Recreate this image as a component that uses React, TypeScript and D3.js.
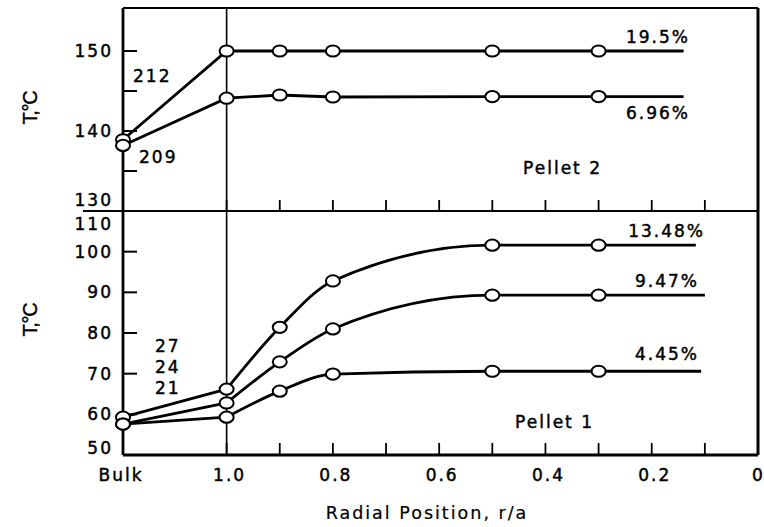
import React from "react";
import * as d3 from "d3";

// Radial positions (r/a); the bulk fluid sits to the left of the pellet surface (r/a = 1.0)
const BULK_R = 1.195;
const positions = [BULK_R, 1.0, 0.9, 0.8, 0.5, 0.3];

// Pellet 2 temperature profiles (°C)
const pellet2Series = [
  { label: "19.5%", values: [138.9, 150.0, 150.0, 150.0, 150.0, 150.0], end: 0.14 },
  { label: "6.96%", values: [138.2, 144.1, 144.5, 144.25, 144.3, 144.3], end: 0.14 },
];

// Pellet 1 temperature profiles (°C)
const pellet1Series = [
  { label: "13.48%", values: [59.3, 66.2, 81.4, 92.8, 101.6, 101.6], end: 0.117 },
  { label: "9.47%", values: [57.6, 62.8, 72.9, 81.0, 89.3, 89.3], end: 0.1 },
  { label: "4.45%", values: [57.6, 59.3, 65.7, 69.9, 70.6, 70.6], end: 0.107 },
];

const radialTicks = [1.0, 0.9, 0.8, 0.7, 0.6, 0.5, 0.4, 0.3, 0.2, 0.1];
const xTickLabels = [
  { v: BULK_R, t: "Bulk" },
  { v: 1.0, t: "1.0" },
  { v: 0.8, t: "0.8" },
  { v: 0.6, t: "0.6" },
  { v: 0.4, t: "0.4" },
  { v: 0.2, t: "0.2" },
];
const topYTicks = [135, 140, 145, 150];
const topYLabels = [130, 140, 150];
const botYTicks = [60, 70, 80, 90, 100];
const botYLabels = [50, 60, 70, 80, 90, 100, 110];

const FONT = "'DejaVu Sans', Verdana, sans-serif";

export default function App() {
  const W = 764, H = 527;
  const left = 123, right = 758, top = 8, mid = 211, bottom = 455;

  const x = d3.scaleLinear().domain([BULK_R, 0]).range([left, right]);
  const yTop = d3.scaleLinear().domain([130, 155.375]).range([mid, top]);
  const yBot = d3.scaleLinear().domain([50, 110]).range([bottom, mid]);

  const straight = d3.line<[number, number]>().x(d => d[0]).y(d => d[1]);
  const smooth = d3
    .line<[number, number]>()
    .x(d => d[0])
    .y(d => d[1])
    .curve(d3.curveMonotoneX);

  const tickFont = {
    fontFamily: FONT,
    fontSize: 17,
    letterSpacing: 2,
    fill: "#000",
    stroke: "#000",
    strokeWidth: 0.45,
  } as const;
  const markStroke = 2.8;

  const renderMarkers = (vals: number[], y: d3.ScaleLinear<number, number>) =>
    vals.map((v, i) => (
      <ellipse
        key={i}
        cx={x(positions[i])}
        cy={y(v)}
        rx={7}
        ry={5.6}
        fill="#fff"
        stroke="#000"
        strokeWidth={2}
      />
    ));

  const yTitle = (cy: number) => (
    <text
      transform={`translate(37,${cy}) rotate(-90)`}
      textAnchor="middle"
      fontFamily="'Liberation Sans', Arial, sans-serif"
      fontSize={20}
      letterSpacing={-1.2}
      stroke="#000"
      strokeWidth={0.4}
    >
      T,°C
    </text>
  );

  return (
    <svg width={W} height={H} style={{ display: "block", position: "absolute", left: 0, top: 0, background: "#fff" }}>
      <rect width={W} height={H} fill="#fff" />

      {/* Pellet 2 lines: straight segments */}
      {pellet2Series.map(s => {
        const pts: [number, number][] = positions.map((p, i) => [x(p), yTop(s.values[i])]);
        pts.push([x(s.end), yTop(s.values[s.values.length - 1])]);
        return (
          <path key={s.label} d={straight(pts) || ""} fill="none" stroke="#000" strokeWidth={markStroke} />
        );
      })}

      {/* Pellet 1 lines: straight from bulk to surface, smooth inside the pellet */}
      {pellet1Series.map(s => {
        const outer: [number, number][] = [
          [x(positions[0]), yBot(s.values[0])],
          [x(positions[1]), yBot(s.values[1])],
        ];
        const inner: [number, number][] = positions.slice(1).map((p, i) => [x(p), yBot(s.values[i + 1])]);
        inner.push([x(s.end), yBot(s.values[s.values.length - 1])]);
        return (
          <g key={s.label}>
            <path d={straight(outer) || ""} fill="none" stroke="#000" strokeWidth={markStroke} />
            <path d={smooth(inner) || ""} fill="none" stroke="#000" strokeWidth={markStroke} />
          </g>
        );
      })}

      {/* surface line at r/a = 1.0 */}
      <line x1={x(1)} x2={x(1)} y1={top} y2={bottom} stroke="#000" strokeWidth={1.6} />

      {/* frame */}
      <line x1={left} x2={right} y1={top} y2={top} stroke="#000" strokeWidth={2.2} />
      <line x1={left} x2={left} y1={top} y2={bottom} stroke="#000" strokeWidth={2.8} />
      <line x1={right} x2={right} y1={top} y2={bottom} stroke="#000" strokeWidth={3} />
      <line x1={left} x2={right} y1={bottom} y2={bottom} stroke="#000" strokeWidth={2.8} />
      <line x1={left - 40} x2={right} y1={mid} y2={mid} stroke="#000" strokeWidth={2.2} />

      {/* radial ticks on the panel divider and bottom edge */}
      {radialTicks.map(t => (
        <g key={t}>
          <line x1={x(t)} x2={x(t)} y1={mid} y2={mid - 11} stroke="#000" strokeWidth={1.8} />
          <line x1={x(t)} x2={x(t)} y1={bottom} y2={bottom - 12} stroke="#000" strokeWidth={1.8} />
        </g>
      ))}

      {/* temperature ticks */}
      {topYTicks.map(t => (
        <line key={t} x1={left} x2={left + 14} y1={yTop(t)} y2={yTop(t)} stroke="#000" strokeWidth={2} />
      ))}
      {botYTicks.map(t => (
        <line key={t} x1={left} x2={left + 14} y1={yBot(t)} y2={yBot(t)} stroke="#000" strokeWidth={2} />
      ))}

      {/* markers */}
      {pellet2Series.map(s => <g key={s.label}>{renderMarkers(s.values, yTop)}</g>)}
      {pellet1Series.map(s => <g key={s.label}>{renderMarkers(s.values, yBot)}</g>)}

      {/* y tick labels */}
      {topYLabels.map(t => (
        <text key={t} x={113} y={yTop(t) + (t === 130 ? -11 : 0)} dy="0.36em" textAnchor="end" {...tickFont}>
          {t}
        </text>
      ))}
      {botYLabels.map(t => (
        <text
          key={t}
          x={113}
          y={yBot(t) + (t === 50 ? -7 : t === 110 ? 13 : 0)}
          dy="0.36em"
          textAnchor="end"
          {...tickFont}
        >
          {t}
        </text>
      ))}

      {/* x tick labels */}
      {xTickLabels.map(d => (
        <text key={d.t} x={x(d.v) + (d.v === BULK_R ? -2 : 3)} y={475} dy="0.36em" textAnchor="middle" {...tickFont}>
          {d.t}
        </text>
      ))}
      <text x={752} y={475} dy="0.36em" {...tickFont} letterSpacing={0}>0</text>

      {/* axis titles */}
      {yTitle(108)}
      {yTitle(320)}
      <text
        x={427}
        y={519}
        textAnchor="middle"
        fontFamily={FONT}
        fontSize={17.5}
        letterSpacing={2}
        stroke="#000"
        strokeWidth={0.2}
      >
        Radial Position, r/a
      </text>

      {/* series labels */}
      <text x={690} y={37} dy="0.36em" textAnchor="end" {...tickFont}>19.5%</text>
      <text x={690} y={113} dy="0.36em" textAnchor="end" {...tickFont}>6.96%</text>
      <text x={602} y={168} dy="0.36em" textAnchor="end" {...tickFont}>Pellet 2</text>
      <text x={133} y={76} dy="0.36em" {...tickFont}>212</text>
      <text x={139} y={157} dy="0.36em" {...tickFont}>209</text>

      <text x={705} y={231} dy="0.36em" textAnchor="end" {...tickFont}>13.48%</text>
      <text x={699} y={281} dy="0.36em" textAnchor="end" {...tickFont}>9.47%</text>
      <text x={699} y={354} dy="0.36em" textAnchor="end" {...tickFont}>4.45%</text>
      <text x={594} y={422} dy="0.36em" textAnchor="end" {...tickFont}>Pellet 1</text>
      <text x={155} y={346} dy="0.36em" {...tickFont}>27</text>
      <text x={155} y={367} dy="0.36em" {...tickFont}>24</text>
      <text x={155} y={388} dy="0.36em" {...tickFont}>21</text>
    </svg>
  );
}
